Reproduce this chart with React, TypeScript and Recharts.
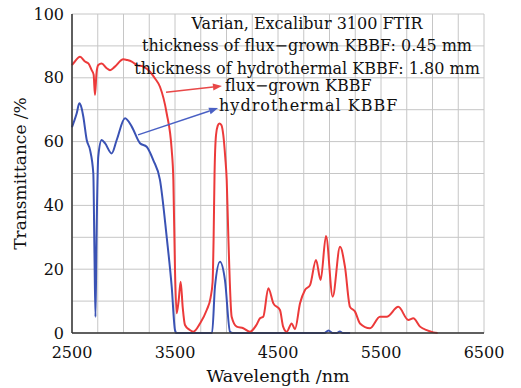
import { LineChart, Line, XAxis, YAxis, CartesianGrid, ReferenceLine, ReferenceDot } from 'recharts';

const FONT = '"DejaVu Serif", serif';
const RED = '#ec3a3a';
const BLUE = '#3a52b4';

// every grid tick; labels only on the major ones
const xTicks = [2500, 2750, 3000, 3250, 3500, 3750, 4000, 4250, 4500, 4750, 5000, 5250, 5500, 5750, 6000, 6250, 6500];
const yTicks = [0, 10, 20, 30, 40, 50, 60, 70, 80, 90, 100];

// flux-grown KBBF, 0.45 mm
const fluxWavelength = [
  2500, 2513, 2578, 2626, 2659, 2691, 2710, 2723, 2738, 2755, 2788, 2837, 2869, 2917, 2998, 3031, 3080, 3128,
  3192, 3257, 3306, 3354, 3419, 3468, 3484, 3500, 3516, 3535, 3555, 3575, 3597, 3640, 3678, 3743, 3808, 3845,
  3865, 3875, 3884, 3898, 3915, 3931, 3950, 3969, 3988, 4002, 4018, 4050, 4099, 4163, 4228, 4290, 4325, 4357,
  4406, 4455, 4519, 4550, 4584, 4633, 4665, 4714, 4762, 4811, 4869, 4914, 4966, 5031, 5102, 5150, 5199, 5248,
  5296, 5393, 5490, 5555, 5668, 5765, 5814, 5879, 5950, 6008, 6050,
];
const fluxTransmittance = [
  84, 84.5, 86.6, 85.1, 84.5, 82.4, 81, 74.6, 81.5, 84, 84.5, 83, 82.4, 83.5, 85.8, 85.6, 85.1, 84,
  83.5, 81.9, 79.8, 77.2, 68.9, 57.4, 48, 19.7, 6.2, 10, 16.1, 8, 2.5, 1, 0.4, 3, 7.2, 11,
  16, 30, 50, 62, 65, 65.7, 65.2, 62, 55, 48, 30, 5.1, 2, 1.5, 0.4, 2.5, 4.6, 5.1,
  14, 9.3, 7.2, 2, 0.4, 3, 1.2, 9.3, 13.5, 15, 22.9, 16.6, 30.4, 11.4, 27, 20.8, 8.2, 6.7,
  3, 1.5, 5.1, 5.1, 8.2, 4.1, 4.6, 2, 0.8, 0.2, 0,
];

// hydrothermal KBBF, 1.80 mm
const hydroWavelength = [
  2500, 2513, 2546, 2571, 2594, 2610, 2643, 2675, 2707, 2718, 2728, 2738, 2755, 2788, 2820, 2885, 2934, 3015,
  3080, 3160, 3225, 3289, 3354, 3419, 3468, 3500, 3515, 3860, 3888, 3937, 3985, 4034, 4060, 4950, 4990, 5030,
  5070, 5100, 5130, 5200,
];
const hydroTransmittance = [
  64.5, 65.7, 68.9, 72, 70.4, 67.8, 60.5, 57.4, 50, 25, 5, 30, 55.3, 60.5, 59.5, 56.3, 60.5, 67.3,
  64.7, 59.5, 58.4, 54.2, 48, 30.2, 14.5, 0.9, 0, 0, 14.5, 22.3, 16.6, 0.4, 0, 0, 0.8, 0,
  0, 0.5, 0, 0,
];

const fluxData = fluxWavelength.map((x, i) => ({ x, y: fluxTransmittance[i] }));
const hydroData = hydroWavelength.map((x, i) => ({ x, y: hydroTransmittance[i] }));

const headerLines = [
  { text: 'Varian, Excalibur 3100 FTIR', y: 97.2 },
  { text: 'thickness of flux\u2212grown KBBF: 0.45 mm', y: 90.2 },
  { text: 'thickness of hydrothermal KBBF: 1.80 mm', y: 83.0 },
];

const arrow = (color: string) => (props: any) => {
  const { x1, y1, x2, y2 } = props;
  const a = Math.atan2(y2 - y1, x2 - x1);
  const len = 9;
  const half = 3.5;
  const bx = x2 - len * Math.cos(a);
  const by = y2 - len * Math.sin(a);
  const pts = [
    [x2, y2],
    [bx + half * Math.sin(a), by - half * Math.cos(a)],
    [bx - half * Math.sin(a), by + half * Math.cos(a)],
  ]
    .map((p) => p.join(','))
    .join(' ');
  return (
    <g>
      <line x1={x1} y1={y1} x2={bx} y2={by} stroke={color} strokeWidth={1.5} />
      <polygon points={pts} fill={color} />
    </g>
  );
};

const axisStroke = { stroke: '#333', strokeWidth: 1.5 };
const tickStyle = { fontSize: 16, fill: '#111', fontFamily: FONT };

export default function App() {
  return (
    <div style={{ position: 'absolute', left: 0, top: 0, background: '#fff' }}>
      <LineChart width={521} height={388} data={fluxData} margin={{ top: 14, right: 37, left: 0, bottom: 0 }}>
        <CartesianGrid stroke="#c6c6c6" />
        <XAxis
          dataKey="x"
          type="number"
          domain={[2500, 6500]}
          ticks={xTicks}
          interval={0}
          tickFormatter={(v: number) => ((v - 2500) % 1000 === 0 ? String(v) : '')}
          tick={tickStyle}
          tickLine={false}
          tickMargin={8}
          axisLine={axisStroke}
          height={55}
          allowDuplicatedCategory={false}
          label={{
            content: ({ viewBox }: any) => (
              <text
                x={viewBox.x + viewBox.width / 2}
                y={viewBox.y + viewBox.height - 6}
                textAnchor="middle"
                fontSize={17.5}
                fontFamily={FONT}
                fill="#111"
              >
                Wavelength /nm
              </text>
            ),
          }}
        />
        <XAxis xAxisId="top" orientation="top" type="number" dataKey="x" domain={[2500, 6500]} tick={false} tickLine={false} axisLine={axisStroke} height={0} />
        <YAxis
          type="number"
          domain={[0, 100]}
          ticks={yTicks}
          interval={0}
          tickFormatter={(v: number) => (v % 20 === 0 ? String(v) : '')}
          tick={tickStyle}
          tickLine={false}
          axisLine={axisStroke}
          width={72}
          label={{
            content: ({ viewBox }: any) => {
              const cx = viewBox.x + 20;
              const cy = viewBox.y + viewBox.height / 2;
              return (
                <text
                  x={cx}
                  y={cy}
                  transform={`rotate(-90, ${cx}, ${cy})`}
                  textAnchor="middle"
                  dominantBaseline="central"
                  fontSize={17}
                  fontFamily={FONT}
                  fill="#111"
                >
                  Transmittance /%
                </text>
              );
            },
          }}
        />
        <YAxis yAxisId="right" orientation="right" type="number" domain={[0, 100]} tick={false} tickLine={false} axisLine={axisStroke} width={0} />

        <Line data={hydroData} dataKey="y" type="monotone" stroke={BLUE} strokeWidth={2} dot={false} isAnimationActive={false} />
        <Line data={fluxData} dataKey="y" type="monotone" stroke={RED} strokeWidth={2} dot={false} isAnimationActive={false} />

        <ReferenceLine segment={[{ x: 3413, y: 75.5 }, { x: 3956, y: 77.4 }]} shape={arrow('#e84848')} />
        <ReferenceLine segment={[{ x: 3141, y: 62.1 }, { x: 3918, y: 70.5 }]} shape={arrow('#4a60c4')} />

        {headerLines.map((l) => (
          <ReferenceDot
            key={l.text}
            x={4782}
            y={l.y}
            r={0}
            fill="none"
            stroke="none"
            label={{ value: l.text, position: 'center', fontSize: 16, fontFamily: FONT, fill: '#111' }}
          />
        ))}
        <ReferenceDot x={3956} y={77.6} r={0} fill="none" stroke="none" label={{ value: 'flux\u2212grown KBBF', position: 'right', offset: 3, fontSize: 16, fontFamily: FONT, fill: '#111' }} />
        <ReferenceDot x={3918} y={71.4} r={0} fill="none" stroke="none" label={{ value: 'hydrothermal KBBF', position: 'right', offset: 1, fontSize: 16, letterSpacing: 1, fontFamily: FONT, fill: '#111' }} />
      </LineChart>
    </div>
  );
}
